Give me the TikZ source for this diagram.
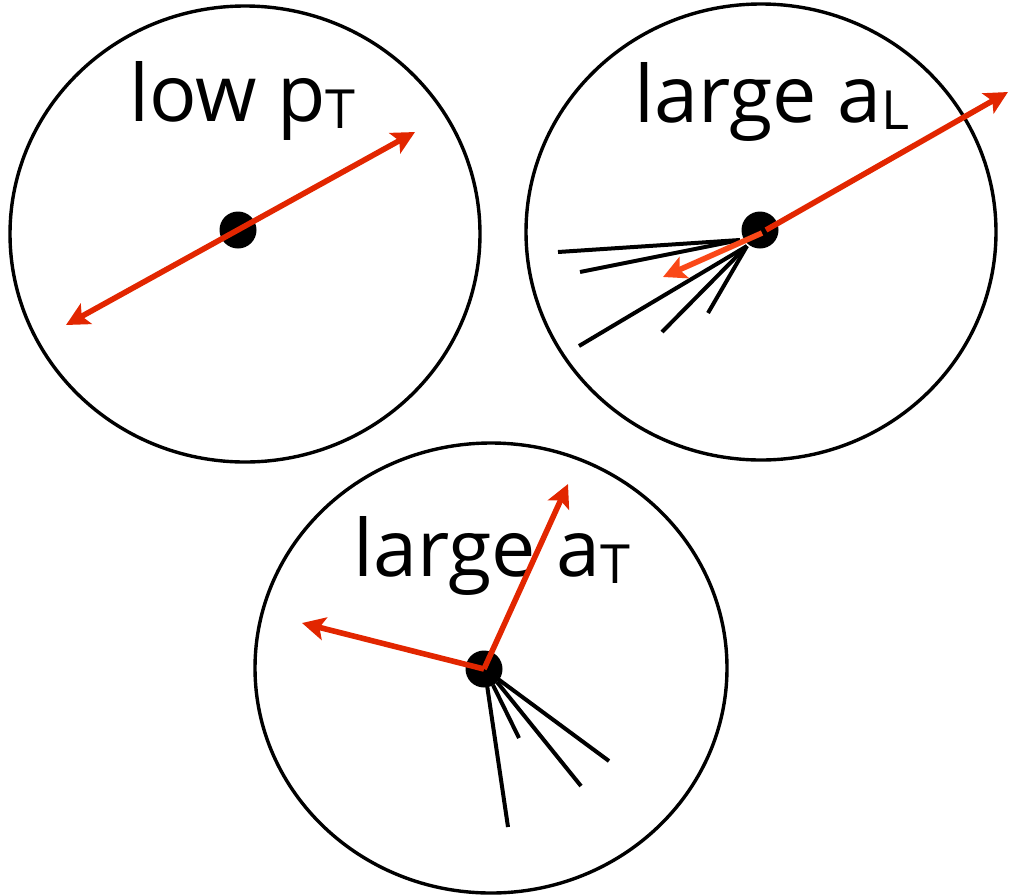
\documentclass[tikz,border=0pt]{standalone}
\usepackage{fontspec}
\setmainfont{Open Sans}
\usetikzlibrary{arrows.meta}
\definecolor{arrred}{RGB}{226,38,0}
\definecolor{arrorange}{RGB}{250,72,24}
\tikzset{
  ring/.style={draw=black, line width=3.4pt},
  track/.style={draw=black, line width=4pt},
  vertex/.style={circle, fill=black, minimum size=37pt, inner sep=0pt},
  vec/.style={draw=arrred, line width=5.6pt, -{Stealth[length=23pt,width=23pt,inset=5pt]}},
  vecb/.style={draw=arrred, line width=5.6pt, {Stealth[length=23pt,width=23pt,inset=5pt]}-{Stealth[length=23pt,width=23pt,inset=5pt]}},
  lbl/.style={anchor=base west, inner sep=0pt, font=\fontsize{79}{80}\selectfont},
}
\newcommand{\subT}[1]{\raisebox{-7pt}{\fontsize{54}{56}\selectfont #1}}
\begin{document}
\begin{tikzpicture}[x=1pt,y=-1pt]
\useasboundingbox (0,0) rectangle (1009,895);
% rings
\draw[ring] (245,234) ellipse [x radius=235, y radius=228];
\draw[ring] (761,232) ellipse [x radius=235, y radius=228];
\draw[ring] (491,668) ellipse [x radius=236, y radius=225];
% labels
\node[lbl] (l1) at (129,121) {low p\subT{T}};
\node[lbl] (l2) at (634,122) {large a\subT{L}};
\node[lbl] (l3) at (353,576) {large a\subT{T}};
% event 1
\node[vertex] (v1) at (238,230) {};
\coordinate (e1a) at (66,325);
\coordinate (e1b) at (415,132);
\draw[vecb] (e1a) -- (e1b);
% event 2
\coordinate (j2a) at (740,240);
\coordinate (j2b) at (747,246);
\coordinate (t2a) at (558,252);
\coordinate (t2b) at (580,272);
\coordinate (t2c) at (579,346);
\coordinate (t2d) at (662,332);
\coordinate (t2e) at (708,313);
\draw[track] (j2a) -- (t2a);
\draw[track] (j2a) -- (t2b);
\draw[track] (j2b) -- (t2c);
\draw[track] (j2b) -- (t2d);
\draw[track] (j2b) -- (t2e);
\node[vertex] (v2) at (760,230) {};
\coordinate (s2) at (766,230);
\coordinate (e2a) at (1008,92);
\coordinate (s2b) at (762,233);
\coordinate (e2b) at (663,277);
\draw[vec] (s2) -- (e2a);
\draw[vec, draw=arrorange] (s2b) -- (e2b);
% event 3
\node[vertex] (v3) at (484,669) {};
\coordinate (t3s1) at (487,685);
\coordinate (t3s2) at (493,685);
\coordinate (t3s3) at (497,682);
\coordinate (t3s4) at (498,679);
\draw[track] (t3s1) -- (508,827) coordinate (t3a);
\draw[track] (t3s2) -- (519,738) coordinate (t3b);
\draw[track] (t3s3) -- (581,786) coordinate (t3c);
\draw[track] (t3s4) -- (609,761) coordinate (t3d);
\coordinate (s3) at (484,669);
\coordinate (e3a) at (568,484);
\coordinate (e3b) at (302,623);
\draw[vec] (s3) -- (e3a);
\draw[vec] (s3) -- (e3b);
\end{tikzpicture}
\end{document}
